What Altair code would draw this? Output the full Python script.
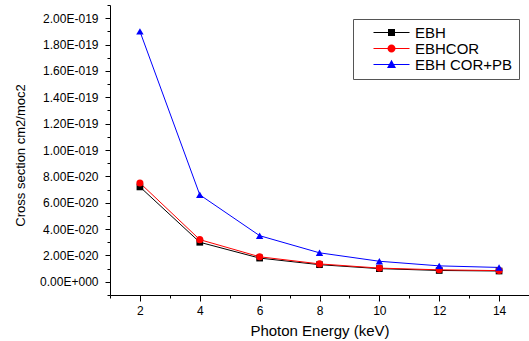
import altair as alt
import pandas as pd

# ---- data ----
energy = [2, 4, 6, 8, 10, 12, 14]
ebh = [7.2e-20, 3.0e-20, 1.8e-20, 1.3e-20, 1.0e-20, 8.6e-21, 8.2e-21]
ebhcor = [7.5e-20, 3.2e-20, 1.9e-20, 1.36e-20, 1.04e-20, 9.1e-21, 8.5e-21]
ebh_cor_pb = [1.9e-19, 6.6e-20, 3.5e-20, 2.2e-20, 1.56e-20, 1.21e-20, 1.09e-20]

series_names = ["EBH", "EBHCOR", "EBH COR+PB"]
series_colors = ["#000000", "#ff0000", "#0000ff"]
series_shapes = ["square", "circle", "triangle-up"]
series_sizes = [45, 55, 80]
# legend glyphs: a thin line segment with the marker in its middle
legend_symbols = [
    "M-3.6,-0.1H3.6V0.1H-3.6ZM-0.7,-0.7H0.7V0.7H-0.7Z",
    "M-3.6,-0.1H3.6V0.1H-3.6ZM0.8,0A0.8,0.8,0,1,1,-0.8,0A0.8,0.8,0,1,1,0.8,0Z",
    "M-3.6,-0.1H3.6V0.1H-3.6ZM0,-0.95L0.9,0.7H-0.9Z",
]

x_ticks = [2, 4, 6, 8, 10, 12, 14]
x_minor_ticks = [1, 3, 5, 7, 9, 11, 13, 15]
y_ticks = [0.0, 2e-20, 4e-20, 6e-20, 8e-20, 1e-19, 1.2e-19, 1.4e-19, 1.6e-19, 1.8e-19, 2e-19]
y_minor_ticks = [-1e-20, 1e-20, 3e-20, 5e-20, 7e-20, 9e-20, 1.1e-19, 1.3e-19,
                 1.5e-19, 1.7e-19, 1.9e-19, 2.1e-19]

rows = []
for name, vals in zip(series_names, [ebh, ebhcor, ebh_cor_pb]):
    for e, v in zip(energy, vals):
        rows.append({"energy": e, "cs": v, "series": name})
df = pd.DataFrame(rows)

FONT = "Liberation Sans"

x_scale = alt.Scale(domain=[1, 15], nice=False, zero=False)
y_scale = alt.Scale(domain=[-1e-20, 2.1e-19], nice=False, zero=False)

x_axis = alt.Axis(
    orient="bottom",
    values=x_ticks,
    title="Photon Energy (keV)",
    grid=False,
    tickSize=6,
    labelFontSize=12,
    labelPadding=4,
    titleFontSize=15,
    titleFontWeight="normal",
    titleBaseline="alphabetic",
    titleY=40,
)
x_minor_axis = alt.Axis(
    orient="bottom", values=x_minor_ticks, title=None, grid=False, labels=False,
    domain=False, tickSize=3,
)

y_label_expr = (
    "abs(datum.value) < 1e-30 ? '0.00E+000' : "
    "format(datum.value / pow(10, floor(log(datum.value)/LN10 + 1e-9)), '.2f') + 'E-' + "
    "format(-floor(log(datum.value)/LN10 + 1e-9), '03d')"
)

y_axis = alt.Axis(
    orient="left",
    values=y_ticks,
    title="Cross section cm2/moc2",
    grid=False,
    tickSize=5,
    labelExpr=y_label_expr,
    labelFontSize=12,
    labelPadding=7,
    titleFontSize=13,
    titleFontWeight="normal",
    titleBaseline="middle",
    titleX=-90,
    titleY=150,
)
y_minor_axis = alt.Axis(
    orient="left", values=y_minor_ticks, title=None, grid=False, labels=False,
    domain=False, tickSize=3,
)

base = alt.Chart(df)

minor_layer = base.mark_point(opacity=0).encode(
    x=alt.X("energy:Q", scale=x_scale, axis=x_minor_axis),
    y=alt.Y("cs:Q", scale=y_scale, axis=y_minor_axis),
)

lines = base.mark_line(strokeWidth=1).encode(
    x=alt.X("energy:Q", scale=x_scale, axis=x_axis),
    y=alt.Y("cs:Q", scale=y_scale, axis=y_axis),
    color=alt.Color("series:N", scale=alt.Scale(domain=series_names, range=series_colors), legend=None),
    detail="series:N",
)

points = base.mark_point(filled=True, opacity=1).encode(
    x=alt.X("energy:Q", scale=x_scale, axis=None),
    y=alt.Y("cs:Q", scale=y_scale, axis=None),
    color=alt.Color("series:N", scale=alt.Scale(domain=series_names, range=series_colors), legend=None),
    shape=alt.Shape("series:N", scale=alt.Scale(domain=series_names, range=series_shapes), legend=None),
    size=alt.Size("series:N", scale=alt.Scale(domain=series_names, range=series_sizes), legend=None),
)

leg = dict(
    title=None,
    orient="none",
    legendX=243,
    legendY=14,
    strokeColor="#555555",
    fillColor="#ffffff",
    padding=6,
    symbolSize=100,
    symbolStrokeWidth=0,
    symbolOpacity=1,
    symbolOffset=25,
    labelFontSize=15,
    labelFont=FONT,
    labelColor="#000000",
    labelOffset=16,
    rowPadding=0,
)

legend_layer = base.mark_point(opacity=0, filled=True).encode(
    x=alt.X("energy:Q", scale=x_scale, axis=None),
    y=alt.Y("cs:Q", scale=y_scale, axis=None),
    color=alt.Color("series:N", scale=alt.Scale(domain=series_names, range=series_colors), legend=alt.Legend(**leg)),
    shape=alt.Shape("series:N", scale=alt.Scale(domain=series_names, range=legend_symbols), legend=alt.Legend(**leg)),
)

chart = (
    alt.layer(minor_layer, legend_layer, lines, points)
    .resolve_scale(shape="independent", color="independent")
    .resolve_axis(x="independent", y="independent")
    .properties(
        width=419,
        height=290,
        padding={"left": 110, "top": 5, "right": 0, "bottom": 46},
        autosize=alt.AutoSizeParams(type="none"),
        background="#ffffff",
    )
    .configure_view(stroke=None)
    .configure_axis(
        domainColor="#000000",
        tickColor="#000000",
        labelColor="#000000",
        titleColor="#000000",
        labelFont=FONT,
        titleFont=FONT,
        domainWidth=1,
        tickWidth=1,
    )
)

chart.save("out.html", embed_options={"renderer": "svg", "actions": False})
